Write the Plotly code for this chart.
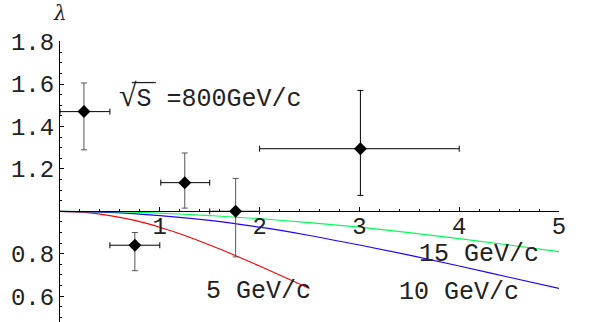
import plotly.graph_objects as go

# ---- data ----
pt_x = [0.24, 0.75, 1.25, 1.76, 3.01]
pt_y = [1.47, 0.84, 1.135, 1.0, 1.295]
pt_xlo = [0.24, 0.25, 0.24, 0.26, 1.01]
pt_xhi = [0.26, 0.25, 0.25, 0.24, 0.99]
pt_ylo = [0.18, 0.12, 0.12, 0.215, 0.22]
pt_yhi = [0.135, 0.06, 0.14, 0.155, 0.275]

red_x = [0, 0.25, 0.5, 0.75, 1.0, 1.25, 1.5, 1.75, 2.0, 2.25, 2.5]
red_y = [1.0, 0.995, 0.980, 0.957, 0.925, 0.886, 0.841, 0.793, 0.742, 0.689, 0.636]
blue_x = [0, 0.5, 1.0, 1.5, 2.0, 2.5, 3.0, 3.5, 4.0, 4.5, 5.0]
blue_y = [1.0, 0.995, 0.980, 0.957, 0.925, 0.886, 0.841, 0.793, 0.742, 0.689, 0.636]
green_x = [0, 0.5, 1.0, 1.5, 2.0, 2.5, 3.0, 3.5, 4.0, 4.5, 5.0]
green_y = [1.0, 0.998, 0.991, 0.980, 0.965, 0.947, 0.925, 0.899, 0.871, 0.841, 0.810]

x_ticks = [1, 2, 3, 4, 5]
y_ticks = [0.6, 0.8, 1.2, 1.4, 1.6, 1.8]
y_ticklabels = ["0.6", "0.8", "1.2", "1.4", "1.6", "1.8"]

YMIN, YMAX = 0.478, 1.803
MONO = "Liberation Mono"
TXT = "#222"

fig = go.Figure()
for xs, ys, c in [(red_x, red_y, "#ff0000"), (blue_x, blue_y, "#2200ff"), (green_x, green_y, "#00ff55")]:
    fig.add_trace(go.Scatter(x=xs, y=ys, mode="lines", line=dict(color=c, width=1.2, shape="spline"),
                             hoverinfo="skip", showlegend=False))

def pts(idx, vcol):
    return go.Scatter(
        x=[pt_x[i] for i in idx], y=[pt_y[i] for i in idx], mode="markers",
        marker=dict(symbol="diamond", size=10, color="black"),
        error_x=dict(type="data", symmetric=False, array=[pt_xhi[i] for i in idx],
                     arrayminus=[pt_xlo[i] for i in idx], color="black", thickness=1, width=3),
        error_y=dict(type="data", symmetric=False, array=[pt_yhi[i] for i in idx],
                     arrayminus=[pt_ylo[i] for i in idx], color=vcol, thickness=1, width=3),
        showlegend=False, cliponaxis=False)

fig.add_trace(pts([0, 1, 2, 3], "#555555"))
fig.add_trace(pts([4], "black"))

fig.update_layout(
    width=605, height=322, margin=dict(l=60, r=46, t=41, b=0, autoexpand=False),
    paper_bgcolor="white", plot_bgcolor="white",
    xaxis=dict(range=[0, 5], anchor="free", position=(1 - YMIN) / (YMAX - YMIN), automargin=False,
               showline=True, linecolor="black", linewidth=1, showgrid=False, zeroline=False,
               tickvals=x_ticks, ticks="inside", ticklen=4, tickcolor="black", ticklabelstandoff=-7,
               minor=dict(dtick=0.2, ticks="inside", ticklen=2, tickcolor="black", showgrid=False),
               tickfont=dict(family=MONO, size=24, color=TXT)),
    yaxis=dict(range=[YMIN, YMAX], automargin=False, showline=True, linecolor="black", linewidth=1,
               showgrid=False, zeroline=False,
               tickvals=y_ticks, ticktext=y_ticklabels, ticks="inside", ticklen=4, tickcolor="black",
               minor=dict(dtick=0.05, ticks="inside", ticklen=2, tickcolor="black", showgrid=False),
               tickfont=dict(family=MONO, size=24, color=TXT)),
)

ann = dict(showarrow=False, font=dict(family=MONO, size=25, color=TXT))
fig.add_annotation(x=0.57, y=1.545, xanchor="left", yanchor="middle",
                   text="<span style='font-family:Liberation Serif;font-size:32px'>√</span>S =800GeV/c", **ann)
# overline of the square root (text decoration)
fig.add_shape(type="line", xref="x", yref="y", x0=0.72, x1=0.96, y0=1.607, y1=1.607,
              line=dict(color=TXT, width=1.3))
fig.add_annotation(x=1.99, y=0.623, text="5 GeV/c", **ann)
fig.add_annotation(x=4.0, y=0.619, text="10 GeV/c", **ann)
fig.add_annotation(x=4.2, y=0.795, text="15 GeV/c", **ann)
fig.add_annotation(x=5.17, y=1.0, xanchor="left", yanchor="middle", text="Q<sub>T</sub>", **ann)
fig.add_annotation(x=0.0, xref="x", y=1 + (41 - 13) / 281, yref="paper", xanchor="center", yanchor="middle",
                   text="<i>λ</i>", showarrow=False,
                   font=dict(family="DejaVu Serif", size=20, color=TXT))

fig.write_html("out.html", config={"displayModeBar": False},
               post_script="document.body.style.margin='0';")
